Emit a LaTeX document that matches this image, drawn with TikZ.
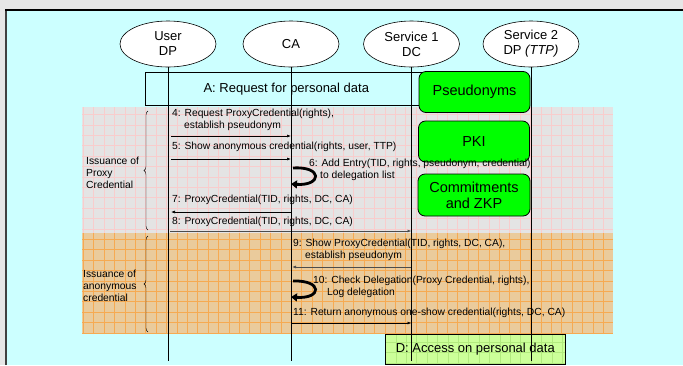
\documentclass[tikz,border=0pt]{standalone}
\usepackage{fontspec}
\setmainfont{Liberation Sans}
\usetikzlibrary{arrows.meta,shapes.geometric,decorations.pathreplacing}
\definecolor{framegray}{HTML}{E6E6E6}
\definecolor{panelcyan}{HTML}{CCFFFF}
\definecolor{grayzone}{HTML}{E4E4E4}
\definecolor{pinkline}{HTML}{F8CDCD}
\definecolor{orangezone}{HTML}{EACB9C}
\definecolor{orangeline}{HTML}{F6AA52}
\definecolor{greenbox}{HTML}{00FF00}
\definecolor{paleleaf}{HTML}{CCFF99}
\definecolor{leafline}{HTML}{B2EA7E}
\newcommand\msgfont{\fontsize{10.3}{12}\selectfont}
\newcommand\bigfont{\fontsize{13}{15}\selectfont}
\tikzset{
	party/.style={ellipse, draw, fill=white, line width=0.6pt, minimum width=96pt, minimum height=46pt, inner sep=0pt, align=center, font=\bigfont},
	mechbox/.style={draw, fill=greenbox, rounded corners=7pt, line width=0.8pt, minimum width=111pt, minimum height=41pt, align=center, font=\fontsize{14.5}{16}\selectfont},
	msgtext/.style={anchor=west, inner sep=0pt, align=left, font=\msgfont},
	msg/.style={line width=0.6pt, -{Latex[length=4pt,width=3pt]}},
	curl/.style={line width=2.8pt, -{Triangle[length=6pt,width=8pt]}},
	lifeline/.style={line width=0.7pt},
}
\begin{document}
\begin{tikzpicture}[x=1pt,y=-1pt]
	%%%%% FRAME %%%%%
	\useasboundingbox (0,0) rectangle (683,365);
	\fill[framegray] (0,0) rectangle (683,365);
	\fill[panelcyan] (6,10) rectangle (683,365);
	\draw[line width=1.4pt, color=black!75] (6,365) -- (6,10);
	\draw[line width=1.4pt] (5.3,10) -- (683,10);
	
	%%%%% PHASES %%%%%
	\fill[grayzone] (82,107) rectangle (613,233);
	\draw[pinkline, line width=0.5pt, step=10.4pt] (82,107) grid (613,233);
	\fill[orangezone] (82,233) rectangle (613,334);
	\draw[orangeline, line width=0.6pt, step=10.4pt] (82,233) grid (613,334);
	
	\draw[decorate, decoration={brace, amplitude=4pt}] (148,230) -- (148,111);
	\node[msgtext] (phaseone) at (86,173) {Issuance of\\Proxy\\Credential};
	\draw[decorate, decoration={brace, amplitude=4pt}] (148,332) -- (148,236);
	\node[msgtext, text depth=0pt] (phasetwo) at (83,286) {Issuance of\\anonymous\\credential};
	
	%%%%% PARTIES %%%%%
	\node[party] (user) at (168,44) {User\\DP};
	\node[party] (ca) at (291,44) {CA};
	\node[party] (sone) at (411.5,44) {Service 1\\DC};
	\node[party] (stwo) at (531,44) {Service 2\\DP \textit{(TTP)}};
	
	\node[draw, fill=panelcyan, line width=0.6pt, minimum width=282pt, minimum height=33pt, anchor=north west, font=\bigfont] (request) at (145,72) {A: Request for personal data};
	\node[mechbox] (pseudo) at (474.5,92) {Pseudonyms};
	\node[mechbox] (pki) at (474,141.5) {PKI};
	\node[mechbox, minimum width=112pt, minimum height=42pt] (zkp) at (474,195) {Commitments\\and ZKP};
	
	\node[draw, line width=0.6pt, fill=paleleaf, minimum width=180pt, minimum height=30pt, anchor=north west, font=\bigfont,
		path picture={\draw[leafline, line width=0.5pt, step=10.4pt] (path picture bounding box.south west) grid (path picture bounding box.north east);}]
		(access) at (385,334) {D: Access on personal data};
	
	%%%%% MESSAGES %%%%%
	\coordinate (r4) at (0,136);
	\coordinate (r5) at (0,159);
	\coordinate (r7) at (0,212);
	\coordinate (r8) at (0,231);
	\coordinate (r9) at (0,267);
	\coordinate (r11) at (0,323);
	\coordinate (bottom) at (0,361);
	
	\node[msgtext] (m4) at (172,120) {4: Request ProxyCredential(rights),\\\hspace*{12pt}establish pseudonym};
	\draw[msg] ([xshift=3pt]user |- r4) -- (ca |- r4);
	
	\node[msgtext] (m5) at (172,147) {5: Show anonymous credential(rights, user, TTP)};
	\draw[msg] ([xshift=3pt]user |- r5) -- (ca |- r5);
	
	\node[msgtext] (m6) at (309,169.5) {6: Add Entry(TID, rights, pseudonym, credential)\\\hspace*{11pt}to delegation list};
	\draw[curl] (293,168) .. controls (323,166) and (322,186) .. (291,184);
	
	\node[msgtext] (m7) at (172,200) {7: ProxyCredential(TID, rights, DC, CA)};
	\draw[msg] (ca |- r7) -- ([xshift=3pt]user |- r7);
	
	\node[msgtext] (m8) at (172,222) {8: ProxyCredential(TID, rights, DC, CA)};
	\draw[msg, color=black!70, line width=0.9pt] ([xshift=2pt]user |- r8) -- (sone |- r8);
	
	\node[msgtext] (m9) at (293,250) {9: Show ProxyCredential(TID, rights, DC, CA),\\\hspace*{12pt}establish pseudonym};
	\draw[msg, color=black!70, line width=0.9pt] (sone |- r9) -- ([xshift=1pt]ca |- r9);
	
	\node[msgtext] (m10) at (313,287) {10: Check Delegation(Proxy Credential, rights),\\\hspace*{14pt}Log delegation};
	\draw[curl] (293,281) .. controls (323,280) and (322,299) .. (291,297);
	
	\node[msgtext] (m11) at (293,313) {11: Return anonymous one-show credential(rights, DC, CA)};
	\draw[msg] (ca |- r11) -- (sone |- r11);
	
	%%%%% LIFELINES %%%%%
	\draw[lifeline] (user.south) -- (user |- bottom);
	\draw[lifeline] (ca.south) -- (ca |- bottom);
	\draw[lifeline] (sone.south) -- (sone |- bottom);
	\draw[lifeline] (stwo.south) -- (stwo |- bottom);
\end{tikzpicture}
\end{document}
